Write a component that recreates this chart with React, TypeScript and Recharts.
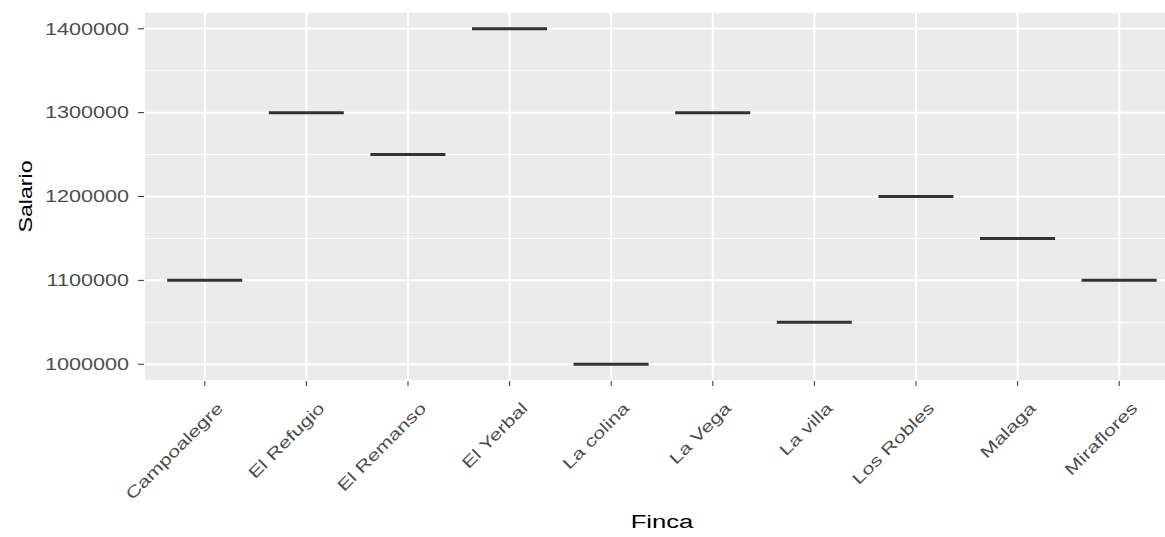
import { BarChart, Bar, XAxis, YAxis, CartesianGrid } from 'recharts';

const fincas = [
  'Campoalegre',
  'El Refugio',
  'El Remanso',
  'El Yerbal',
  'La colina',
  'La Vega',
  'La villa',
  'Los Robles',
  'Malaga',
  'Miraflores',
];
const salarios = [1100000, 1300000, 1250000, 1400000, 1000000, 1300000, 1050000, 1200000, 1150000, 1100000];
const yTicks = [1000000, 1100000, 1200000, 1300000, 1400000];
const yMinor = [1050000, 1150000, 1250000, 1350000];

const data = fincas.map((finca, i) => ({ finca, salario: salarios[i] }));

const FONT = '"Liberation Sans", Arial, sans-serif';
// the reference text is drawn wide, so glyphs get stretched along the text direction
const STRETCH = 1.35;

function YTick({ x, y, payload }: any) {
  return (
    <g transform={`translate(${x},${y}) scale(${STRETCH},1)`}>
      <text textAnchor="end" dy="0.36em" fill="#4D4D4D" fontSize={16} fontFamily={FONT}>
        {payload.value}
      </text>
    </g>
  );
}

function XTick({ x, y, payload }: any) {
  return (
    <g transform={`translate(${x + 11},${y}) rotate(-45) scale(${STRETCH},1)`}>
      <text textAnchor="end" dy="0.72em" fill="#4D4D4D" fontSize={16} fontFamily={FONT}>
        {payload.value}
      </text>
    </g>
  );
}

function XTitle(props: any) {
  const vb = props.viewBox || { x: 144, y: 381, width: 1036, height: 156 };
  return (
    <g transform={`translate(${vb.x + vb.width / 2},${vb.y + vb.height - 9}) scale(${STRETCH},1)`}>
      <text textAnchor="middle" fill="#000000" fontSize={19} fontFamily={FONT}>
        Finca
      </text>
    </g>
  );
}

function YTitle(props: any) {
  const vb = props.viewBox || { x: 0, y: 12, width: 144, height: 369 };
  return (
    <g transform={`translate(${vb.x + 32},${vb.y + vb.height / 2}) rotate(-90) scale(1.22,1)`}>
      <text textAnchor="middle" fill="#000000" fontSize={19} fontFamily={FONT}>
        Salario
      </text>
    </g>
  );
}

// degenerate boxplot: one value per finca, so only the median line shows
function Median({ x, y, width }: any) {
  return <line x1={x} x2={x + width} y1={y} y2={y} stroke="#333333" strokeWidth={3} />;
}

export default function App() {
  return (
    <div
      style={{
        position: 'absolute',
        left: 0,
        top: 0,
        width: 1165,
        height: 537,
        overflow: 'hidden',
        background: '#ffffff',
      }}
    >
      <BarChart
        width={1200}
        height={537}
        data={data}
        margin={{ top: 12, right: 20, left: 0, bottom: 0 }}
        barCategoryGap="13%"
      >
        <CartesianGrid
          fill="#EBEBEB"
          stroke="#FFFFFF"
          strokeWidth={1}
          vertical={false}
          horizontalValues={yMinor}
        />
        <CartesianGrid stroke="#FFFFFF" strokeWidth={2} />
        <XAxis
          dataKey="finca"
          type="category"
          interval={0}
          padding={{ left: 10, right: 10 }}
          axisLine={false}
          tickLine={{ stroke: '#333333' }}
          tickSize={5}
          tickMargin={15}
          height={156}
          tick={<XTick />}
          label={XTitle}
        />
        <YAxis
          type="number"
          domain={[980000, 1420000]}
          ticks={yTicks}
          allowDataOverflow
          interval={0}
          axisLine={false}
          tickLine={{ stroke: '#333333' }}
          tickSize={6}
          tickMargin={9}
          width={144}
          tick={<YTick />}
          label={YTitle}
        />
        <Bar dataKey="salario" shape={<Median />} isAnimationActive={false} />
      </BarChart>
    </div>
  );
}
